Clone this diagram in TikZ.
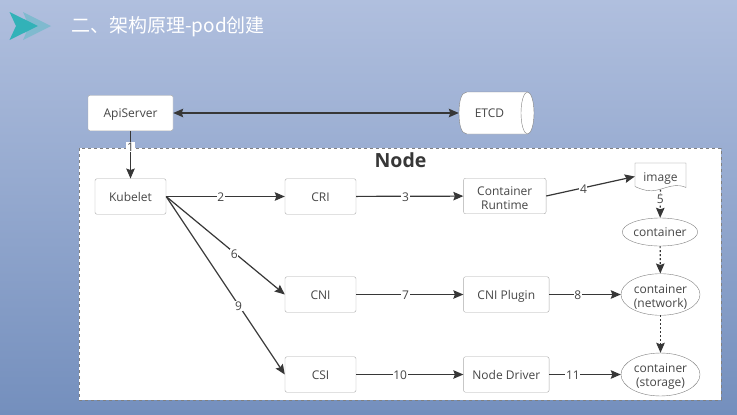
\documentclass[tikz,border=0pt]{standalone}
\usepackage{fontspec}
\setmainfont{Open Sans}
\newfontfamily\cjktitle{Noto Sans CJK SC}
\usetikzlibrary{arrows.meta,shapes.geometric}

\definecolor{slidetop}{RGB}{176,191,222}
\definecolor{slidebot}{RGB}{116,143,189}
\definecolor{linegray}{RGB}{55,55,55}
\definecolor{textgray}{RGB}{70,70,70}
\definecolor{boxgray}{RGB}{170,170,170}
\definecolor{tealdark}{RGB}{50,178,184}
\definecolor{teallight}{RGB}{128,186,207}

\tikzset{
  plain/.style={text=textgray, inner sep=0pt, font=\fontsize{12}{14}\selectfont},
  oneline/.style={text height=10.8pt, text depth=1.2pt},
  box/.style={plain, draw=boxgray, fill=white, rounded corners=2pt, align=center,
    minimum width=71pt, minimum height=35.5pt},
  oval/.style={plain, ellipse, draw=gray, fill=white, align=center},
  link/.style={draw=linegray, line width=1.2pt, -{Stealth[length=10pt,width=8.5pt,inset=1.5pt]}},
  dotlink/.style={link, dash pattern=on 2pt off 2pt},
  num/.style={plain, fill=white, inner sep=0.6pt, yshift=-1pt},
}

\begin{document}
\begin{tikzpicture}[x=1pt, y=-1pt]
\shade [top color=slidetop, bottom color=slidebot] (0,0) rectangle (737,415);
\useasboundingbox (0,0) rectangle (737,415);

% title
\fill [teallight] (23,12) -- (51,26) -- (23,40) -- (29,26) -- cycle;
\fill [tealdark] (9.5,12) -- (38,26) -- (9.5,40) -- (16,26) -- cycle;
\node [text=white, anchor=west, inner sep=0pt, font=\cjktitle\fontsize{19}{22}\selectfont] (title) at (71,27) {二、架构原理-pod创建};

% node area
\draw [draw=gray, dashed, fill=white] (79,148) rectangle (721,400);
\node [font=\bfseries\fontsize{19.5}{21}\selectfont, text=linegray] (nodetitle) at (400.5,160.5) {Node};

% top row
\node [box, oneline, minimum width=85pt] (apiserver) at (130.5,113) {ApiServer};
\draw [draw=gray, fill=white] (467,92) -- (527.5,92) -- (527.5,134) -- (467,134)
  .. controls (461,134) and (459,124) .. (459,113) .. controls (459,102) and (461,92) .. (467,92) -- cycle;
\draw [draw=gray, fill=white] (527.5,113) ellipse [x radius=6.5, y radius=21];
\node [minimum width=75pt, minimum height=42pt, inner sep=0pt] (etcd) at (496.5,113) {};
\node [plain, oneline] (etcdtext) at (489.5,113) {ETCD};

% first row
\node [box, oneline] (kubelet) at (130.5,196.5) {Kubelet};
\node [box, oneline] (cri) at (320.5,196.5) {CRI};
\node [box, minimum width=82.5pt] (runtime) at (504.8,196) {\rule{0pt}{13.5pt}Container\\Runtime};
\node [minimum width=51pt, minimum height=26pt, inner sep=0pt] (image) at (660.5,176.5) {};
\draw [draw=gray, fill=white] (635,163) -- (686,163) -- (686,187.5)
  .. controls (672,181) and (660,193) .. (647,190.5) .. controls (642,189.5) and (638,188) .. (635,186.5) -- cycle;
\node [plain, oneline] (imagetext) at (660.5,176.5) {image};
\node [oval, oneline, minimum width=72pt, minimum height=28pt] (container) at (660,232) {container};

% second row
\node [box, oneline] (cni) at (320.5,294.5) {CNI};
\node [box, oneline, minimum width=85.5pt] (plugin) at (506.3,294.5) {CNI Plugin};
\node [oval, minimum width=79pt, minimum height=35.5pt] (network) at (660.5,294.5) {\rule{0pt}{13.5pt}container\\(network)};

% third row
\node [box, oneline] (csi) at (320.5,374.5) {CSI};
\node [box, oneline, minimum width=85.5pt] (driver) at (506.3,374.5) {Node Driver};
\node [oval, minimum width=79pt, minimum height=35.5pt] (storage) at (660.5,374.5) {\rule{0pt}{13.5pt}container\\(storage)};

% connectors
\draw [link, {Stealth[length=10pt,width=8.5pt,inset=1.5pt]}-{Stealth[length=10pt,width=8.5pt,inset=1.5pt]}] (apiserver) -- (etcd);
\draw [link] (apiserver) -- node [num, pos=0.32] {1} (kubelet);
\draw [link] (kubelet) -- node [num, pos=0.46] {2} (cri);
\draw [link] (cri) -- node [num, pos=0.46] {3} (runtime);
\draw [link] (runtime.east) -- node [num, pos=0.42] {4} (image.west);
\draw [dotlink] (image.south) -- node [num, pos=0.3] {5} (container);
\draw [link] (kubelet.east) -- node [num, pos=0.575] {6} (cni.west);
\draw [link] (cni) -- node [num, pos=0.46] {7} (plugin);
\draw [link] (plugin) -- node [num, pos=0.4] {8} (network);
\draw [link] (kubelet.east) -- node [num, pos=0.61] {9} (csi.west);
\draw [link] (csi) -- node [num, pos=0.41] {10} (driver);
\draw [link] (driver) -- node [num, pos=0.33] {11} (storage);
\draw [dotlink] (container) -- (network);
\draw [dotlink] (network) -- (storage);
\end{tikzpicture}
\end{document}
